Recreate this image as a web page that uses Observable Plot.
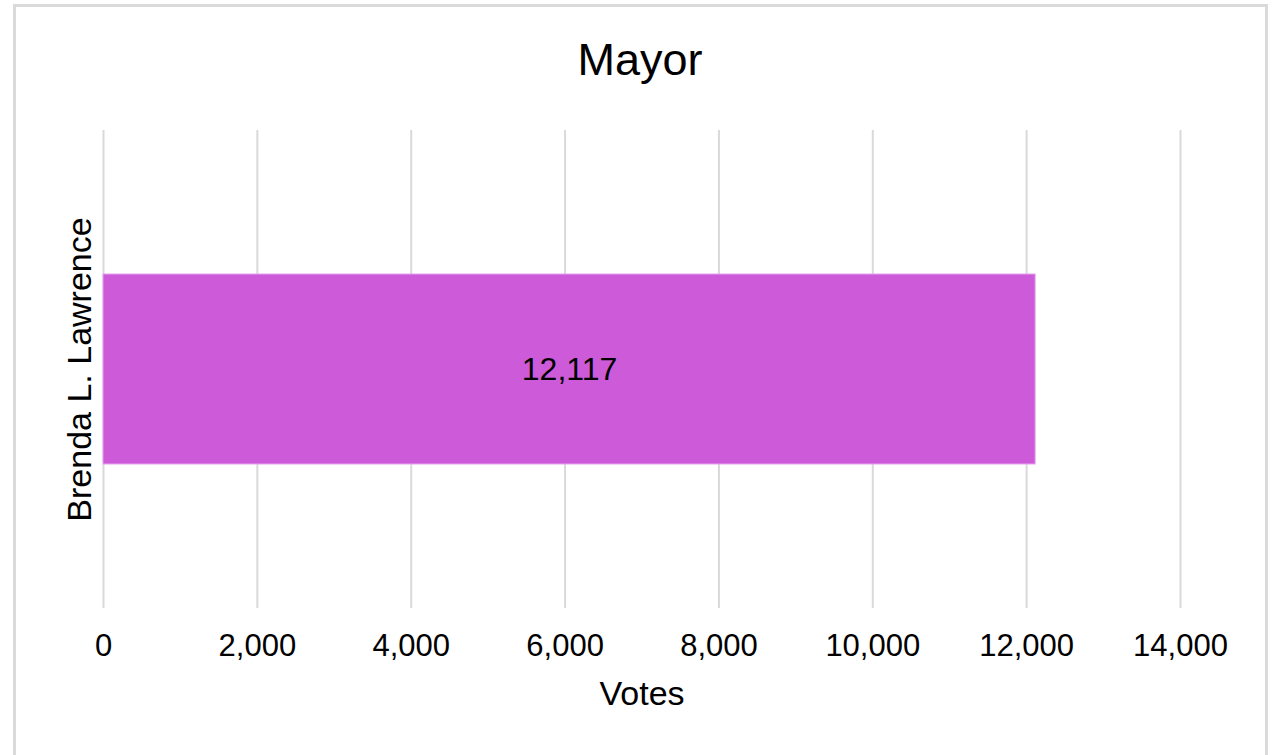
<!DOCTYPE html>
<html>
<head>
<meta charset="utf-8">
<script src="https://cdn.jsdelivr.net/npm/d3@7"></script>
<script src="https://cdn.jsdelivr.net/npm/@observablehq/plot@0.6"></script>
<style>
  html, body { margin: 0; padding: 0; background: #fff; width: 1278px; height: 755px; overflow: hidden; font-family: "Liberation Sans", Arial, sans-serif; }
  #frame { position: absolute; left: 13px; top: 4px; width: 1249px; height: 800px; border: 3px solid #dadada; border-bottom: none; }
  #title { position: absolute; left: 0; top: 37px; width: 1278px; text-align: center; font-size: 45px; line-height: 45px; color: #000; padding-left: 2px; box-sizing: border-box; }
  #chart { position: absolute; left: 0; top: 100px; }
</style>
</head>
<body>
<div id="frame"></div>
<div id="title">Mayor</div>
<div id="chart"></div>
<script>
const candidates = ["Brenda L. Lawrence"];
const votes = [12117];
const xTicks = [0, 2000, 4000, 6000, 8000, 10000, 12000, 14000];
const xLabel = "Votes";
const barColor = "#cd5bd9";

const data = candidates.map((name, i) => ({ name, votes: votes[i] }));
const fmt = d3.format(",");

const chart = Plot.plot({
  width: 1278,
  height: 655,
  marginTop: 30,
  marginBottom: 147,
  marginLeft: 103,
  marginRight: 98,
  style: { fontFamily: "'Liberation Sans', Arial, sans-serif", color: "#000", background: "transparent" },
  x: { domain: [0, 14000] },
  y: { domain: candidates, padding: 0.43, axis: null },
  marks: [
    Plot.gridX(xTicks, { stroke: "#d9d9d9", strokeOpacity: 1, strokeWidth: 2 }),
    Plot.barX(data, { x: "votes", y: "name", fill: barColor, stroke: "#e6a3ee", strokeWidth: 1 }),
    Plot.text(data, { x: d => d.votes / 2, y: "name", text: d => fmt(d.votes), fontSize: 32, fill: "#000" }),
    Plot.axisX({ ticks: xTicks, tickFormat: fmt, tickSize: 0, tickPadding: 25, fontSize: 31, label: null, fill: "#000" }),
    Plot.text([xLabel], { frameAnchor: "bottom", text: d => d, dy: 86, fontSize: 34, lineAnchor: "middle", fill: "#000" }),
    Plot.text(data, { y: "name", frameAnchor: "left", text: "name", dx: -23, rotate: -90, fontSize: 34, lineAnchor: "middle", textAnchor: "middle", fill: "#000" })
  ]
});
document.getElementById("chart").appendChild(chart);
</script>
</body>
</html>
